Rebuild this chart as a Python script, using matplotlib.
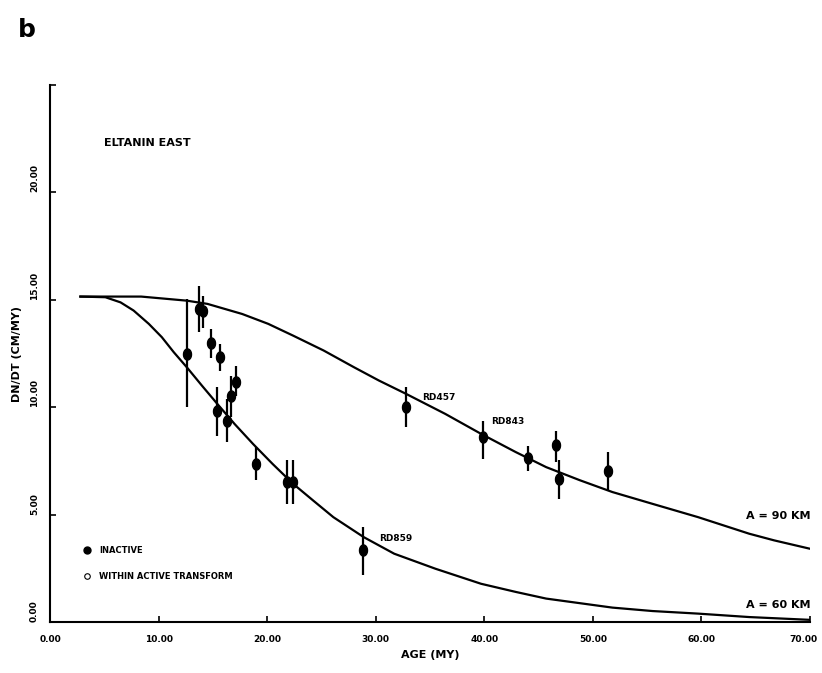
import matplotlib
matplotlib.use("Agg")
import numpy as np
import matplotlib.pyplot as plt
from matplotlib.lines import Line2D
from matplotlib.path import Path
from matplotlib.transforms import ScaledTranslation

# ---- data ----
age = [12.6, 13.7, 14.1, 14.8, 15.7, 15.4, 16.3, 16.7, 17.1, 19.0, 21.8, 22.4,
       28.8, 32.8, 39.9, 44.0, 46.6, 46.9, 51.4]
dndt = [12.48, 14.57, 14.5, 12.98, 12.33, 9.84, 9.38, 10.54, 11.19, 7.36, 6.54, 6.54,
        3.33, 10.03, 8.6, 7.64, 8.22, 6.67, 7.05]
err_lo = [2.48, 1.08, 0.8, 0.68, 0.63, 1.16, 1.01, 1.0, 0.65, 0.77, 1.04, 1.04,
          1.16, 0.93, 1.0, 0.59, 0.78, 0.93, 0.93]
err_hi = [2.56, 1.09, 0.7, 0.66, 0.62, 1.12, 1.01, 0.9, 0.71, 0.78, 0.98, 0.98,
          1.09, 0.9, 0.78, 0.56, 0.68, 0.85, 0.85]

curve90_age = [2.8, 8.4, 12.6, 14.5, 17.7, 20.1, 22.4, 25.2, 28.0, 30.3, 32.8, 36.4,
               39.7, 42.9, 45.7, 48.8, 51.8, 55.5, 59.7, 64.4, 66.7, 70.0]
curve90_val = [15.15, 15.15, 14.96, 14.81, 14.34, 13.88, 13.33, 12.64, 11.86, 11.24,
               10.62, 9.69, 8.76, 7.91, 7.21, 6.6, 6.05, 5.5, 4.88, 4.11, 3.8, 3.41]

curve60_age = [2.8, 5.1, 6.5, 7.7, 9.1, 10.3, 11.4, 12.6, 14.0, 15.4, 17.0, 18.7,
               20.5, 22.4, 24.3, 26.1, 28.9, 31.7, 35.5, 39.7, 42.9, 45.7, 51.8,
               55.5, 59.7, 64.4, 70.0]
curve60_val = [15.15, 15.12, 14.88, 14.5, 13.88, 13.26, 12.56, 11.86, 11.0, 10.16,
               9.22, 8.29, 7.36, 6.43, 5.63, 4.88, 3.95, 3.18, 2.48, 1.78, 1.40,
               1.09, 0.67, 0.51, 0.39, 0.23, 0.10]

x_ticks = [0, 10, 20, 30, 40, 50, 60, 70]
y_ticks = [0, 5, 10, 15, 20]
x_tick_labels = ["0.00", "10.00", "20.00", "30.00", "40.00", "50.00", "60.00", "70.00"]
y_tick_labels = ["0.00", "5.00", "10.00", "15.00", "20.00"]

site_labels = ["RD457", "RD843", "RD859"]
site_label_pos = [(34.3, 10.45), (40.6, 9.35), (30.3, 3.88)]

plt.rcParams['font.family'] = ['DejaVu Sans']
plt.rcParams['font.weight'] = 'bold'

# vertical ellipse marker shape
t = np.linspace(0, 2 * np.pi, 40)
ell = Path(np.column_stack([0.72 * np.cos(t), np.sin(t)]), closed=True)

fig = plt.figure(figsize=(8.22, 6.73), dpi=100)
W, H = 822, 673
left, right, bottom, top = 50, 810, 622, 85
ax = fig.add_axes([left / W, 1 - bottom / H, (right - left) / W, (bottom - top) / H])

ax.plot(curve90_age, curve90_val, color="black", lw=1.6, solid_joinstyle="round")
ax.plot(curve60_age, curve60_val, color="black", lw=1.6, solid_joinstyle="round")

ax.errorbar(age, dndt, yerr=[err_lo, err_hi], fmt="none", ecolor="black",
            elinewidth=1.6, capsize=0)
ax.plot(age, dndt, ls="none", marker=ell, color="black", ms=8)

for name, (xx, yy) in zip(site_labels, site_label_pos):
    ax.text(xx, yy, name, fontsize=6.5, fontweight="bold", va="center", ha="left")

ax.text(70, 4.95, "A = 90 KM", fontsize=8, fontweight="bold", ha="right", va="center")
ax.text(70, 0.78, "A = 60 KM", fontsize=8, fontweight="bold", ha="right", va="center")
ax.text(5.0, 22.3, "ELTANIN EAST", fontsize=8, fontweight="bold", ha="left", va="center")

handles = [Line2D([], [], marker="o", ls="none", color="black", ms=5),
           Line2D([], [], marker="o", ls="none", mfc="white", mec="black", ms=4, mew=0.8)]
ax.legend(handles, ["INACTIVE", "WITHIN ACTIVE TRANSFORM"], loc="upper left",
          bbox_to_anchor=(0.042, 0.141), frameon=False, borderpad=0, borderaxespad=0,
          handletextpad=0.9, handlelength=1.2, labelspacing=2.0,
          prop={"weight": "bold", "size": 6})

ax.set_xlim(0, 70)
ax.set_ylim(0, 25)
ax.set_xticks(x_ticks)
ax.set_xticklabels(x_tick_labels, fontsize=6.5, fontweight="bold")
ax.set_yticks(y_ticks)
ax.set_yticklabels(y_tick_labels, fontsize=6.5, fontweight="bold", rotation=90, va="bottom")
ax.set_yticks([25], minor=True)
ax.tick_params(axis="both", which="both", direction="in", length=4, width=1.2)
ax.tick_params(axis="x", pad=9)
ax.tick_params(axis="y", pad=8)
ax.spines["top"].set_visible(False)
ax.spines["right"].set_visible(False)
ax.spines["left"].set_linewidth(1.5)
ax.spines["bottom"].set_linewidth(1.5)

last = ax.get_xticklabels()[-1]
last.set_transform(last.get_transform() + ScaledTranslation(-0.07, 0, fig.dpi_scale_trans))

ax.set_xlabel("AGE (MY)", fontsize=8, fontweight="bold", labelpad=5)
ax.set_ylabel("DN/DT (CM/MY)", fontsize=8, fontweight="bold", labelpad=6)

fig.text(18 / W, 1 - 30 / H, "b", fontsize=18, fontweight="bold", va="center", ha="left")

fig.savefig("out.png", dpi=100)
